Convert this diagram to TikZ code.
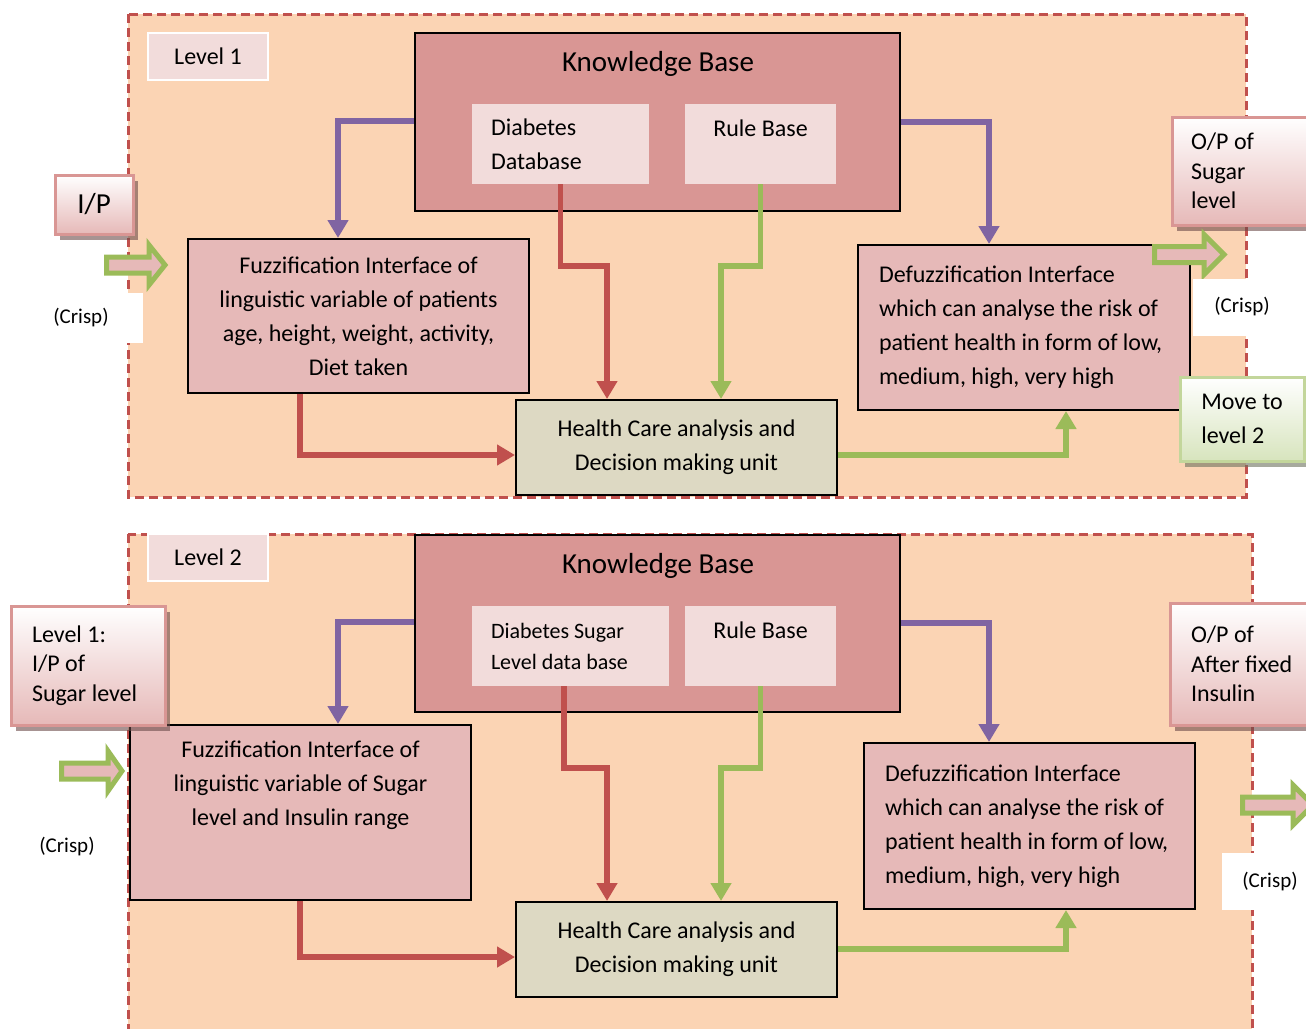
\documentclass[tikz,border=0pt]{standalone}
\usepackage{fontspec}
\setmainfont{Carlito}
\usetikzlibrary{positioning,shadows,arrows.meta}

\definecolor{peach}{HTML}{FBD4B4}
\definecolor{dashred}{HTML}{C0504D}
\definecolor{kbpink}{HTML}{D99694}
\definecolor{palepink}{HTML}{F2DCDB}
\definecolor{rosepink}{HTML}{E6B9B8}
\definecolor{khaki}{HTML}{DDD9C3}
\definecolor{violetln}{HTML}{8064A2}
\definecolor{greenln}{HTML}{9BBB59}
\definecolor{palegreen}{HTML}{D7E4BD}
\definecolor{greenedge}{HTML}{C3D69B}

\tikzset{
	panel/.style={draw=dashred,line width=3,dash pattern=on 9pt off 5pt,fill=peach},
	lvlbox/.style={draw=white,line width=2,fill=palepink,minimum width=120,minimum height=47},
	kbbox/.style={draw=black,line width=2,fill=kbpink,minimum width=485},
	kbtitle/.style={font=\fontsize{29}{34}\selectfont},
	subbox/.style={fill=palepink,minimum height=80},
	fuzzbox/.style={draw=black,line width=2,fill=rosepink},
	hcbox/.style={draw=black,line width=2,fill=khaki,minimum width=321,minimum height=95,align=center},
	iobox/.style={draw=kbpink,line width=3,top color=white,bottom color=rosepink,
		drop shadow={shadow xshift=5pt,shadow yshift=-6pt,fill=black!50!kbpink,opacity=0.6}},
	movebox/.style={draw=greenedge,line width=3,top color=white,bottom color=palegreen,
		drop shadow={shadow xshift=5pt,shadow yshift=-6pt,fill=black!50!palegreen,opacity=0.6}},
	crisp/.style={fill=white,font=\fontsize{21}{25}\selectfont},
	blockarrow/.style={draw=greenln,line width=5,fill=rosepink,line join=miter},
	link/.style={line width=5.5,-{Triangle[width=20pt,length=18pt]}},
}

% hollow block arrow: left x, head x, tip x, mid y
\newcommand{\hollowarr}[4]{%
	\draw[blockarrow] (#1,#4-8) -- (#2,#4-8) -- (#2,#4-20) -- (#3,#4)
		-- (#2,#4+20) -- (#2,#4+8) -- (#1,#4+8) -- cycle;}

\begin{document}
\begin{tikzpicture}[x=1pt,y=-1pt,font=\fontsize{24}{34}\selectfont]
	\useasboundingbox (0,0) rectangle (1306,1028);
	\clip (0,0) rectangle (1306,1028);
	%\draw[help lines] (0,0) grid[step=50] (1306,1028);
	%PANELS
	\draw[panel] (128,14) rectangle (1246,497);
	\draw[panel] (128,534) rectangle (1252,1045);

	%LEVEL 1
	\node[lvlbox] (lvlA) at (208,56.5) {Level 1};
	\node[kbbox,minimum height=178] (kbA) at (657.5,122) {};
	\node[kbtitle] (kbAtitle) at (658,64) {Knowledge Base};
	\node[subbox,minimum width=177,text width=139,align=flush left] (dbA) at (560.5,144) {Diabetes\\Database};
	\node[subbox,minimum width=151,align=center] (rbA) at (760.5,144) {Rule Base\\[-12pt]\strut};
	\node[fuzzbox,minimum width=341,minimum height=154,align=center] (fuzzA) at (358.5,316)
		{Fuzzification Interface of\\linguistic variable of patients\\age, height, weight, activity,\\Diet taken};
	\node[hcbox] (hcA) at (676.5,447.5) {Health Care analysis and\\Decision making unit};
	\node[fuzzbox,minimum width=332,minimum height=165,text width=290,align=flush left] (defA) at (1024,327.5)
		{Defuzzification Interface\\which can analyse the risk of\\patient health in form of low,\\medium, high, very high};
	\node[iobox,minimum width=78,minimum height=59,font=\fontsize{29}{34}\selectfont] (ipA) at (94,204.5) {I/P};
	\hollowarr{106.5}{149}{165}{265}
	\node[crisp,minimum width=124,minimum height=50] (crispA) at (81,318) {(Crisp)};
	\node[iobox,minimum width=148,minimum height=108,text width=110,align=flush left,font=\fontsize{24}{29.5}\selectfont]
		(opA) at (1246,171) {O/P of\\Sugar\\level};
	\hollowarr{1154.5}{1204}{1224}{254.5}
	\node[crisp,minimum width=98,minimum height=57] (crispA2) at (1242,307) {(Crisp)};
	\node[movebox,minimum width=124,minimum height=84,align=flush left] (mvA) at (1242,419) {Move to\\level 2};

	%CONNECTORS 1
	\draw[link,violetln] (kbA.west |- 0,121) -| (fuzzA.north -| 338,0);
	\draw[link,violetln] (kbA.east |- 0,122) -| (defA.north -| 989,0);
	\draw[link,dashred] (dbA.south) |- (607,266) -- (hcA.north -| 607,0);
	\draw[link,greenln] (rbA.south) |- (721,266) -- (hcA.north -| 721,0);
	\draw[link,dashred] (fuzzA.south -| 300,0) |- (hcA.west |- 0,455);
	\draw[link,greenln] (hcA.east |- 0,455) -| (defA.south -| 1066,0);

	%LEVEL 2
	\node[lvlbox] (lvlB) at (208,557.5) {Level 2};
	\node[kbbox,minimum height=177] (kbB) at (657.5,623.5) {};
	\node[kbtitle] (kbBtitle) at (658,566) {Knowledge Base};
	\node[subbox,minimum width=197,text width=159,align=flush left,font=\fontsize{22}{31}\selectfont]
		(dbB) at (570.5,646) {Diabetes Sugar\\Level data base};
	\node[subbox,minimum width=151,align=center] (rbB) at (760.5,646) {Rule Base\\[-12pt]\strut};
	\node[fuzzbox,minimum width=341,minimum height=175] (fuzzB) at (300.5,812.5) {};
	\node[align=center] (fuzzBtext) at (300.5,785)
		{Fuzzification Interface of\\linguistic variable of Sugar\\level and Insulin range};
	\node[hcbox] (hcB) at (676.5,949.5) {Health Care analysis and\\Decision making unit};
	\node[fuzzbox,minimum width=331,minimum height=166,text width=289,align=flush left] (defB) at (1029.5,826)
		{Defuzzification Interface\\which can analyse the risk of\\patient health in form of low,\\medium, high, very high};
	\node[iobox,minimum width=154,minimum height=119,text width=112,align=flush left,font=\fontsize{24}{29.5}\selectfont]
		(ipB) at (88,665.5) {Level 1:\\I/P of\\Sugar level};
	\hollowarr{61.5}{108}{122}{771}
	\node[crisp] (crispB) at (67,846) {(Crisp)};
	\node[iobox,minimum width=160,minimum height=122,text width=118,align=flush left,font=\fontsize{24}{29.5}\selectfont]
		(opB) at (1250,664) {O/P of\\After fixed\\Insulin};
	\hollowarr{1242.5}{1293}{1313}{805}
	\node[crisp,minimum width=96,minimum height=57] (crispB2) at (1270,881.5) {(Crisp)};

	%CONNECTORS 2
	\draw[link,violetln] (kbB.west |- 0,622) -| (fuzzB.north -| 338,0);
	\draw[link,violetln] (kbB.east |- 0,623) -| (defB.north -| 989,0);
	\draw[link,dashred] (dbB.south -| 564,0) |- (607,768) -- (hcB.north -| 607,0);
	\draw[link,greenln] (rbB.south) |- (721,768) -- (hcB.north -| 721,0);
	\draw[link,dashred] (fuzzB.south -| 300,0) |- (hcB.west |- 0,957);
	\draw[link,greenln] (hcB.east |- 0,949) -| (defB.south -| 1066,0);
\end{tikzpicture}
\end{document}
